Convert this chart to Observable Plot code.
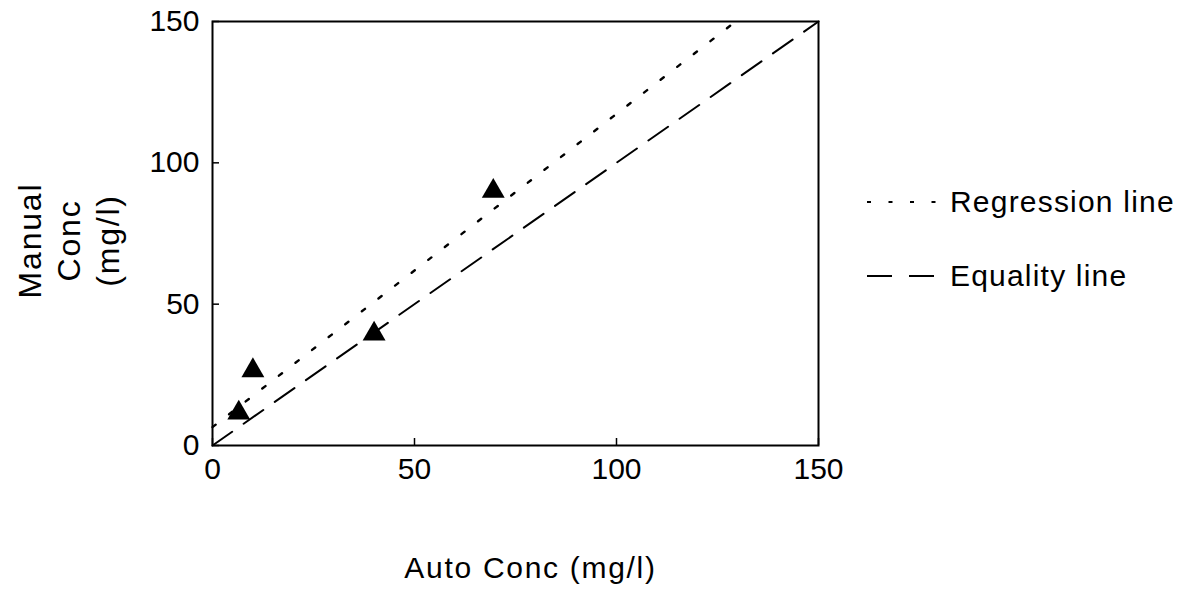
<!DOCTYPE html>
<html>
<head>
<meta charset="utf-8">
<script src="https://cdn.jsdelivr.net/npm/d3@7"></script>
<script src="https://cdn.jsdelivr.net/npm/@observablehq/plot@0.6"></script>
<style>
  body { margin: 0; background: #fff; font-family: "Liberation Sans", Arial, Helvetica, sans-serif; }
  #wrap { position: relative; width: 1193px; height: 590px; }
  #legend { position: absolute; left: 866px; top: 0; }
  .item { position: absolute; left: 0; display: flex; align-items: center; white-space: nowrap; font-size: 30px; letter-spacing: 1.2px; color: #000; }
  .item svg { margin-right: 12px; }
</style>
</head>
<body>
<div id="wrap"><div id="chart"></div><div id="legend"></div></div>
<script>
// Data
const autoConc = [6.5, 10, 40, 69.5];          // x values (Auto Conc, mg/l)
const manualConc = [11.5, 26.5, 39.5, 90];     // y values (Manual Conc, mg/l)
const regressionX = [0, 129.5];                 // regression line endpoints
const regressionY = [6.5, 150];
const equalityX = [0, 150];                     // equality line y = x
const equalityY = [0, 150];
const ticks = [0, 50, 100, 150];
const xLabel = "Auto Conc (mg/l)";
const yLabel = "Manual\nConc\n(mg/l)";
const legendLabels = ["Regression line", "Equality line"];

const points = autoConc.map((x, i) => ({x, y: manualConc[i]}));
const regression = regressionX.map((x, i) => ({x, y: regressionY[i]}));
const equality = equalityX.map((x, i) => ({x, y: equalityY[i]}));

const font = "Liberation Sans, Arial, Helvetica, sans-serif";

const chart = Plot.plot({
  width: 850,
  height: 590,
  marginLeft: 212,
  marginRight: 32,
  marginTop: 21,
  marginBottom: 145,
  style: {fontFamily: font, background: "#fff", color: "#000"},
  x: {domain: [0, 150]},
  y: {domain: [0, 150]},
  marks: [
    Plot.axisX({ticks, tickSize: -7, tickPadding: 19, fontSize: 30, label: null, strokeWidth: 1.5}),
    Plot.axisY({ticks, tickSize: -7, tickPadding: 20, fontSize: 30, label: null, strokeWidth: 1.5}),
    Plot.line(equality, {x: "x", y: "y", stroke: "#000", strokeWidth: 2, strokeDasharray: "24,14"}),
    Plot.line(regression, {x: "x", y: "y", stroke: "#000", strokeWidth: 2.4, strokeDasharray: "4,17"}),
    Plot.dot(points, {x: "x", y: "y", symbol: "triangle", r: 8.5, fill: "#000", stroke: "none"}),
    Plot.frame({stroke: "#000", strokeWidth: 2}),
    Plot.text([xLabel], {text: d => d, frameAnchor: "bottom", dx: 15, dy: 132, lineAnchor: "bottom", fontSize: 30, fill: "#000"}),
    Plot.text([yLabel], {text: d => d, frameAnchor: "left", textAnchor: "middle", rotate: -90, dx: -199, dy: 7, lineAnchor: "top", lineHeight: 1.22, fontSize: 32, fill: "#000"})
  ]
});
document.getElementById("chart").appendChild(chart);
// letter spacing for axis titles
chart.querySelectorAll("text").forEach(t => {
  if (t.textContent === xLabel) t.setAttribute("letter-spacing", "1.7");
  if (t.textContent.startsWith("Manual")) t.setAttribute("letter-spacing", "1.8");
});

const legend = document.getElementById("legend");
const styles = [{dash: "4,17.5", w: 2.2, top: 202}, {dash: "25,17", w: 2, top: 276}];
legendLabels.forEach((lab, i) => {
  const s = styles[i];
  const div = document.createElement("div");
  div.className = "item";
  div.style.top = (s.top - 20) + "px";
  div.style.height = "40px";
  div.innerHTML = `<svg width="72" height="10"><line x1="1" y1="5" x2="72" y2="5" stroke="#000" stroke-width="${s.w}" stroke-dasharray="${s.dash}"/></svg><span>${lab}</span>`;
  legend.appendChild(div);
});
</script>
</body>
</html>
